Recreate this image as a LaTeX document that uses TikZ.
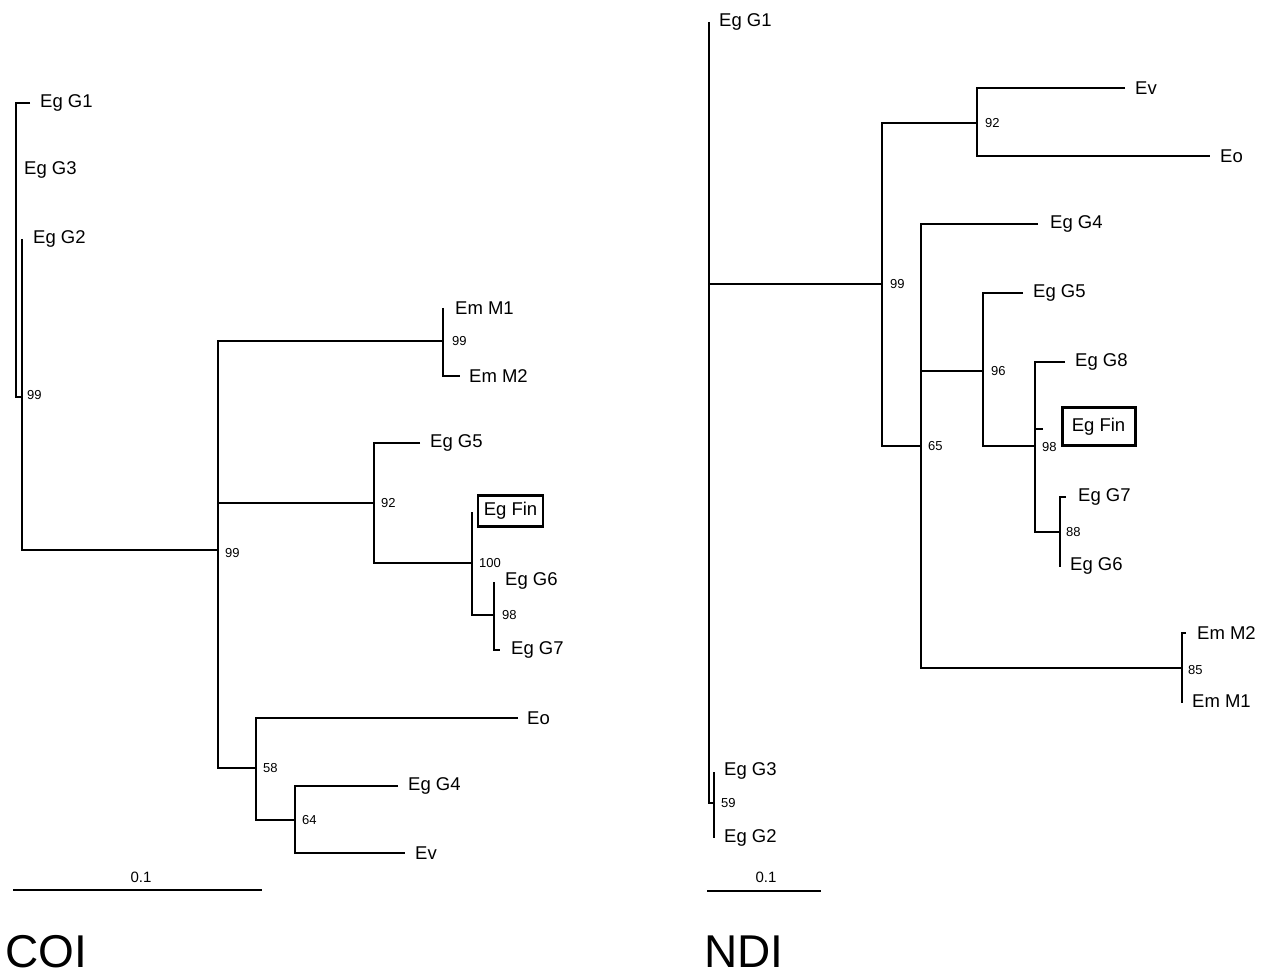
\documentclass[tikz,border=0pt]{standalone}
\usepackage{fontspec}
\setmainfont{Liberation Sans}
\begin{document}
\begin{tikzpicture}[x=1pt,y=-1pt,
  br/.style={line width=2.7pt, line join=miter, line cap=butt},
  lab/.style={anchor=west, inner sep=0pt, font=\fontsize{18.5}{18.5}\selectfont},
  boot/.style={anchor=west, inner sep=0pt, font=\fontsize{13}{13}\selectfont},
  boxlab/.style={draw, line width=2.6pt, inner sep=0pt, font=\fontsize{18.5}{18.5}\selectfont},
  title/.style={anchor=base west, inner sep=0pt, text depth=0pt, font=\fontsize{46}{46}\selectfont}]
\useasboundingbox (0,0) rectangle (1270,976);

% ---------------- COI ----------------
\coordinate (coiG1) at (30,103);
\coordinate (coiG1n) at (16,397);
\coordinate (coiJ) at (22,397);
\coordinate (coiG2) at (22,239);
\coordinate (coiroot) at (22,550);
\coordinate (coiB) at (218,550);
\coordinate (coiEm) at (443,341);
\coordinate (coiM1) at (443,308);
\coordinate (coiM2) at (460,376);
\coordinate (coiC) at (374,503);
\coordinate (coiG5) at (420,443);
\coordinate (coiD) at (472,563);
\coordinate (coiFin) at (472,512);
\coordinate (coiE) at (494,615);
\coordinate (coiG6) at (494,582);
\coordinate (coiG7) at (500,650);
\coordinate (coiF) at (256,768);
\coordinate (coiEo) at (518,718);
\coordinate (coiG) at (295,820);
\coordinate (coiG4) at (398,786);
\coordinate (coiEv) at (405,853);

\draw[br] (coiG1) -| (coiG1n) -- (coiJ);
\draw[br] (coiG2) -- (coiroot) -- (coiB);
\draw[br] (coiB) |- (coiEm);
\draw[br] (coiM1) -- (coiEm) |- (coiM2);
\draw[br] (coiB |- coiC) -- (coiC);
\draw[br] (coiG5) -| (coiC) |- (coiD);
\draw[br] (coiFin) -- (coiD) |- (coiE);
\draw[br] (coiG6) -- (coiE) |- (coiG7);
\draw[br] (coiB) |- (coiF);
\draw[br] (coiEo) -| (coiF) |- (coiG);
\draw[br] (coiG4) -| (coiG) |- (coiEv);

\node[lab] (lcG1) at (40,103) {Eg G1};
\node[lab] (lcG3) at (24,170) {Eg G3};
\node[lab] (lcG2) at (33,239) {Eg G2};
\node[boot] (bc1) at (27,395) {99};
\node[lab] (lcM1) at (455,308) {Em M1};
\node[lab] (lcM2) at (469,376) {Em M2};
\node[boot] (bc2) at (452,341) {99};
\node[lab] (lcG5) at (430,443) {Eg G5};
\node[boot] (bc3) at (381,503) {92};
\node[boot] (bc4) at (225,553) {99};
\node[boxlab, minimum width=65pt, minimum height=31pt] (lcFin) at (510.5,511) {Eg Fin};
\node[boot] (bc5) at (479,563) {100};
\node[lab] (lcG6) at (505,581) {Eg G6};
\node[boot] (bc6) at (502,615) {98};
\node[lab] (lcG7) at (511,650) {Eg G7};
\node[lab] (lcEo) at (527,718) {Eo};
\node[boot] (bc7) at (263,768) {58};
\node[lab] (lcG4) at (408,786) {Eg G4};
\node[boot] (bc8) at (302,820) {64};
\node[lab] (lcEv) at (415,853) {Ev};

\coordinate (coiS1) at (13,890);
\coordinate (coiS2) at (262,890);
\draw[line width=2.3pt] (coiS1) -- (coiS2);
\node[inner sep=0pt, font=\fontsize{15}{15}\selectfont] (coiSL) at (141,877) {0.1};
\node[title] (coiT) at (5,967) {COI};

% ---------------- NDI ----------------
\coordinate (ndiG1) at (709,22);
\coordinate (ndiR) at (709,284);
\coordinate (ndiJ) at (709,803);
\coordinate (ndiK) at (714,803);
\coordinate (ndiG3) at (714,772);
\coordinate (ndiG2) at (714,838);
\coordinate (ndiA) at (882,284);
\coordinate (ndiB) at (977,123);
\coordinate (ndiEv) at (1125,88);
\coordinate (ndiEo) at (1210,156);
\coordinate (ndiC) at (921,446);
\coordinate (ndiG4) at (1038,224);
\coordinate (ndiEm) at (1182,668);
\coordinate (ndiM2) at (1186,633);
\coordinate (ndiM1) at (1182,703);
\coordinate (ndiD) at (983,371);
\coordinate (ndiG5) at (1023,293);
\coordinate (ndiE) at (1035,446);
\coordinate (ndiG8) at (1065,362);
\coordinate (ndiFin) at (1043,429);
\coordinate (ndiF) at (1060,532);
\coordinate (ndiG7) at (1066,497);
\coordinate (ndiG6) at (1060,567);

\draw[br] (ndiG1) -- (ndiJ) -- (ndiK);
\draw[br] (ndiG3) -- (ndiG2);
\draw[br] (ndiR) -- (ndiA);
\draw[br] (ndiA) |- (ndiB);
\draw[br] (ndiEv) -| (ndiB) |- (ndiEo);
\draw[br] (ndiA) |- (ndiC);
\draw[br] (ndiG4) -| (ndiC) |- (ndiEm);
\draw[br] (ndiM2) -| (ndiEm) -- (ndiM1);
\draw[br] (ndiC |- ndiD) -- (ndiD);
\draw[br] (ndiG5) -| (ndiD) |- (ndiE);
\draw[br] (ndiG8) -| (ndiE) |- (ndiF);
\draw[br] (ndiE |- ndiFin) -- (ndiFin);
\draw[br] (ndiG7) -| (ndiF) -- (ndiG6);

\node[lab] (lnG1) at (719,22) {Eg G1};
\node[lab] (lnEv) at (1135,88) {Ev};
\node[lab] (lnEo) at (1220,156) {Eo};
\node[boot] (bn1) at (985,123) {92};
\node[boot] (bn2) at (890,284) {99};
\node[lab] (lnG4) at (1050,224) {Eg G4};
\node[lab] (lnG5) at (1033,293) {Eg G5};
\node[boot] (bn3) at (991,371) {96};
\node[boot] (bn4) at (928,446) {65};
\node[lab] (lnG8) at (1075,362) {Eg G8};
\node[boxlab, line width=3pt, minimum width=73pt, minimum height=37pt] (lnFin) at (1098.5,426.5) {Eg Fin};
\node[boot] (bn5) at (1042,447) {98};
\node[lab] (lnG7) at (1078,497) {Eg G7};
\node[boot] (bn6) at (1066,532) {88};
\node[lab] (lnG6) at (1070,566) {Eg G6};
\node[lab] (lnM2) at (1197,633) {Em M2};
\node[boot] (bn7) at (1188,670) {85};
\node[lab] (lnM1) at (1192,701) {Em M1};
\node[lab] (lnG3) at (724,771) {Eg G3};
\node[boot] (bn8) at (721,803) {59};
\node[lab] (lnG2) at (724,838) {Eg G2};

\coordinate (ndiS1) at (707,891);
\coordinate (ndiS2) at (821,891);
\draw[line width=2.3pt] (ndiS1) -- (ndiS2);
\node[inner sep=0pt, font=\fontsize{15}{15}\selectfont] (ndiSL) at (766,877) {0.1};
\node[title] (ndiT) at (704,967) {NDI};
\end{tikzpicture}
\end{document}
